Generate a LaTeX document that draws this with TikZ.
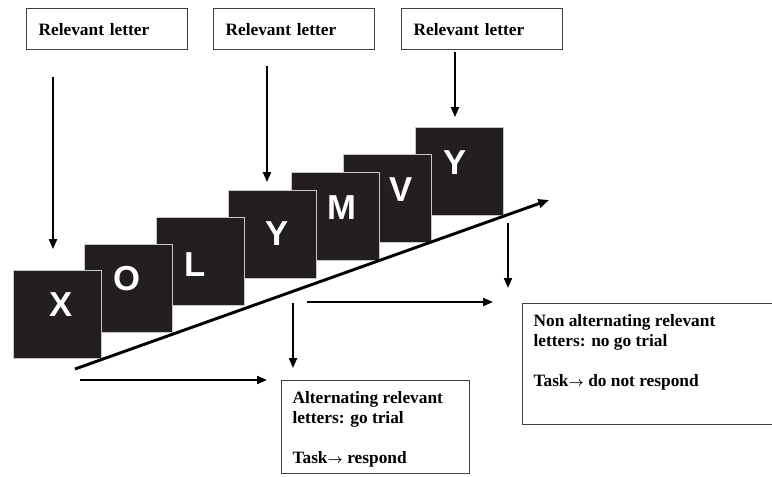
\documentclass[tikz,border=0pt]{standalone}
\usepackage{fontspec}
\setmainfont{Liberation Serif}
\setsansfont{Liberation Sans}
\usetikzlibrary{arrows.meta,positioning}
\definecolor{cardfill}{HTML}{231F20}
\newcommand{\taskarrow}{{\fontsize{10}{15}\selectfont$\boldsymbol{\rightarrow}$}}
\usepackage{amsmath,amssymb,bm}
\tikzset{
  relbox/.style={draw=black!75, line width=0.9pt, anchor=north west, inner xsep=9pt,
    text width=102.75pt, minimum height=30.75pt, align=left,
    font=\fontsize{13}{15}\selectfont\bfseries},
  outbox/.style={draw=black!75, line width=0.9pt, anchor=north west, inner sep=8.25pt,
    font=\fontsize{13}{15}\selectfont\bfseries},
  card/.style={fill=cardfill, draw=gray!45, line width=0.6pt, minimum size=66pt, inner sep=0pt},
  cardletter/.style={text=white, inner sep=0pt, font=\sffamily\bfseries\fontsize{26}{26}\selectfont},
  arr/.style={line width=1.5pt, -{Triangle[length=7.5pt,width=6pt]}},
}

\begin{document}
\begin{tikzpicture}[x=0.75pt,y=-0.75pt]
    \useasboundingbox (0,0) rectangle (772,476);
    % Relevant letter boxes
    \node[relbox] (rel1) at (26,8) {Relevant letter};
    \node[relbox] (rel2) at (213,8) {Relevant letter};
    \node[relbox] (rel3) at (401,8) {Relevant letter};
    % Letter cards (first one on top)
    \foreach \n/\t/\cx/\cy/\lx/\ly in {7/Y/459.5/171.5/455/163, 6/V/387.5/198/401/190,
        5/M/335/216.5/342/207.5, 4/Y/272/234.5/277/234, 3/L/200.5/261/195/265,
        2/O/128.5/288/127/279, 1/X/57.5/314.5/61/305}
    {
        \node[card] (sq\n) at (\cx,\cy) {};
        \node[cardletter] (let\n) at (\lx,\ly) {\t};
    }
    % Time line
    \coordinate (t0) at (75,369);
    \coordinate (t1) at (549,200);
    \draw[line width=2.2pt, -{Triangle[length=8pt,width=6.5pt]}] (t0) -- (t1);
    % Arrows to the relevant letters
    \coordinate (in1) at (53,77);
    \coordinate (in2) at (267,66);
    \coordinate (in3) at (455,52);
    \draw[arr, shorten >=15.75pt] (in1) -- (in1 |- sq1.north);
    \draw[arr, shorten >=6pt] (in2) -- (in2 |- sq4.north);
    \draw[arr, shorten >=7.5pt] (in3) -- (in3 |- sq7.north);
    % Outcome boxes
    \node[outbox] (gobox) at (281,380) {\parbox[t][53.25pt][t]{124.5pt}{Alternating relevant\\
        letters: go trial\\[15pt]Task\taskarrow{} respond}};
    \node[outbox] (nogo) at (522,303) {\parbox[t][74.25pt][t]{186pt}{Non alternating relevant\\
        letters: no go trial\\[15pt]Task\taskarrow{} do not respond}};
    % Arrows to the outcomes
    \coordinate (g0) at (80,380);
    \coordinate (g1) at (293,303);
    \coordinate (n0) at (307,302);
    \coordinate (n1) at (508,223);
    \draw[arr] (g0) -- ([xshift=-10.5pt]gobox.north west);
    \draw[arr, shorten >=9pt] (g1) -- (g1 |- gobox.north);
    \draw[arr] (n0) -- ([xshift=-21.75pt,yshift=0.75pt]nogo.north west);
    \draw[arr, shorten >=11.25pt] (n1) -- (n1 |- nogo.north);
\end{tikzpicture}
\end{document}
